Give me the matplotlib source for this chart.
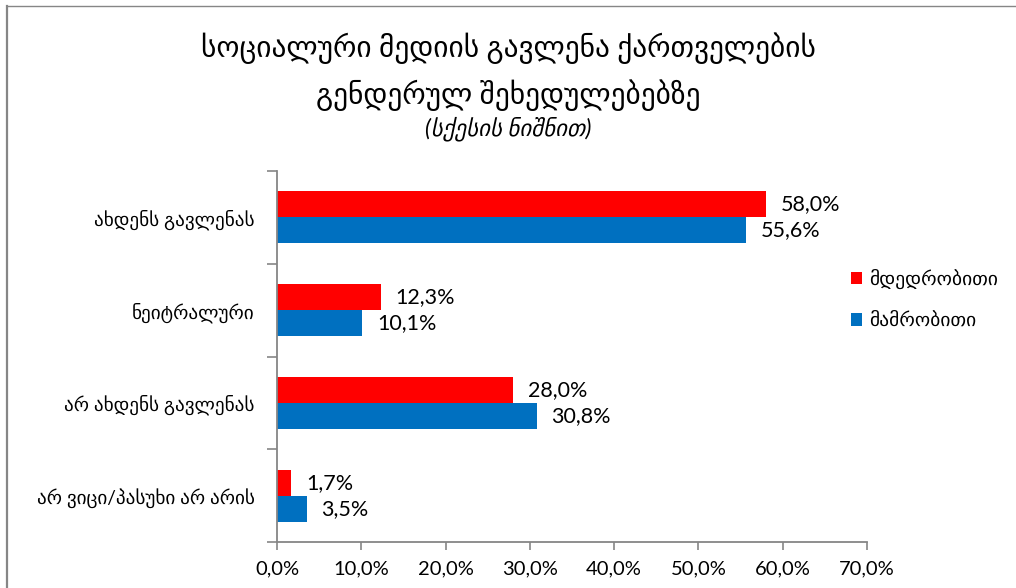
import matplotlib
matplotlib.use("Agg")
from matplotlib import pyplot as plt
from matplotlib.patches import Patch
from matplotlib.lines import Line2D
import numpy as np

plt.rcParams['font.family'] = ['Lato', 'DejaVu Sans']

# data
categories = ["ახდენს გავლენას", "ნეიტრალური", "არ ახდენს გავლენას", "არ ვიცი/პასუხი არ არის"]
female = [58.0, 12.3, 28.0, 1.7]
male = [55.6, 10.1, 30.8, 3.5]
series_names = ["მდედრობითი", "მამრობითი"]
x_ticks = [0, 10, 20, 30, 40, 50, 60, 70]

red = '#FF0000'
blue = '#0070C0'
grey = '#868686'

W, H = 1016, 588
fig = plt.figure(figsize=(W / 100, H / 100), dpi=100)
ax = fig.add_axes([277 / W, 1 - 542 / H, 590 / W, 371 / H])

y = np.arange(len(categories))
bh = 0.28
b1 = ax.barh(y - bh / 2, female, height=bh, color=red)
b2 = ax.barh(y + bh / 2, male, height=bh, color=blue)

# data labels
for bars, vals in ((b1, female), (b2, male)):
    for rect, v in zip(bars, vals):
        ax.annotate(f"{v:.1f}%".replace('.', ','),
                    (rect.get_width(), rect.get_y() + rect.get_height() / 2),
                    xytext=(15, 0), textcoords='offset pixels',
                    ha='left', va='center', fontsize=15.5, color='#000000')

ax.set_xlim(0, 70)
ax.set_ylim(len(categories) - 0.5, -0.5)
ax.set_xticks(x_ticks)
ax.set_xticklabels([f"{t:.1f}%".replace('.', ',') for t in x_ticks], fontsize=14.5)
ax.set_yticks(np.arange(len(categories) + 1) - 0.5)
ax.set_yticklabels([])
ax.set_yticks(y, minor=True)
ax.set_yticklabels(categories, minor=True, fontsize=13.8)
ax.tick_params(axis='y', which='major', length=7, width=1.2, color=grey, direction='out')
ax.tick_params(axis='y', which='minor', length=0, pad=16)
ax.tick_params(axis='x', length=6, width=1.2, color=grey, direction='out', pad=7)

for s in ('top', 'right'):
    ax.spines[s].set_visible(False)
for s in ('left', 'bottom'):
    ax.spines[s].set_color(grey)
    ax.spines[s].set_linewidth(1.3)

# title
fig.text(0.5, 1 - 48 / H, "სოციალური მედიის გავლენა ქართველების", ha='center', va='center',
         fontsize=21.2, fontweight='medium')
fig.text(0.5, 1 - 95 / H, "გენდერულ შეხედულებებზე", ha='center', va='center',
         fontsize=21.2, fontweight='medium')
fig.text(0.5, 1 - 129 / H, "(სქესის ნიშნით)", ha='center', va='center', fontsize=16.5, style='italic')

# legend
handles = [Patch(facecolor=red), Patch(facecolor=blue)]
fig.legend(handles, series_names, loc='center left', bbox_to_anchor=(833 / W, 1 - 299 / H),
           frameon=False, fontsize=14, handlelength=0.6, handleheight=0.6,
           handletextpad=0.35, labelspacing=1.2)

# chart border
fig.add_artist(Line2D([6.5 / W, 1], [1 - 5.5 / H] * 2, transform=fig.transFigure, color=grey, lw=1))
fig.add_artist(Line2D([6.5 / W] * 2, [0, 1 - 5.5 / H], transform=fig.transFigure, color=grey, lw=1.6))

fig.savefig('out.png', dpi=100)
